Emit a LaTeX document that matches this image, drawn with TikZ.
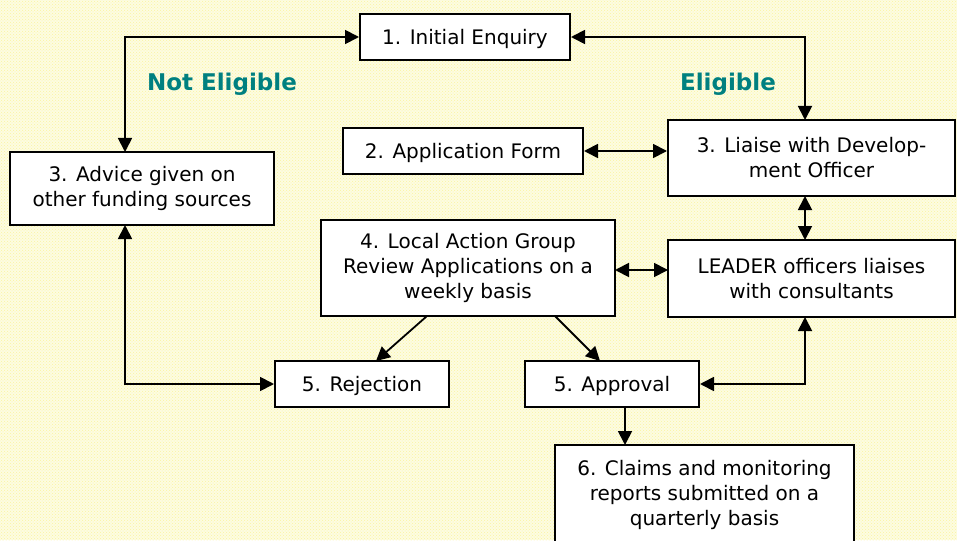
\documentclass[tikz,border=0pt]{standalone}
\usepackage{fontspec}
\setmainfont{DejaVu Sans}
\usetikzlibrary{arrows.meta,patterns}
\definecolor{bgyellow}{RGB}{253,252,225}
\definecolor{dotyellow}{RGB}{250,244,160}
\definecolor{teallabel}{RGB}{0,128,128}
\tikzset{
  box/.style={draw=black, line width=2pt, fill=white, align=center, inner sep=2pt,
    font=\fontsize{20}{25}\selectfont},
  onebox/.style={box, text height=19pt, text depth=4pt},
  conn/.style={line width=1.8pt, -{Triangle[length=14pt,width=14pt]}},
  biconn/.style={line width=1.8pt, {Triangle[length=14pt,width=14pt]}-{Triangle[length=14pt,width=14pt]}},
  lbl/.style={text=teallabel, font=\bfseries\fontsize{23}{27}\selectfont}
}
\begin{document}
\begin{tikzpicture}[x=1pt,y=-1pt]
\fill[bgyellow] (0,0) rectangle (957,540);
\fill[pattern=crosshatch dots, pattern color=dotyellow] (0,0) rectangle (957,540);
\useasboundingbox (0,0) rectangle (957,540);

\node[onebox, minimum width=210pt, minimum height=46pt] (enq) at (465,37) {1. Initial Enquiry};
\node[onebox, minimum width=240pt, minimum height=46pt] (app) at (463,151) {2. Application Form};
\node[box, minimum width=287pt, minimum height=76pt] (lia) at (811.5,158) {3. Liaise with Develop-\\ment Officer};
\node[box, minimum width=264pt, minimum height=73pt] (adv) at (142,188.5) {3. Advice given on\\other funding sources};
\node[box, minimum width=294pt, minimum height=96pt] (lag) at (468,268) {4. Local Action Group\\Review Applications on a\\weekly basis};
\node[box, minimum width=287pt, minimum height=77pt] (lea) at (811.5,278.5) {LEADER officers liaises\\with consultants};
\node[onebox, minimum width=174pt, minimum height=46pt] (rej) at (362,384) {5. Rejection};
\node[onebox, minimum width=174pt, minimum height=46pt] (apr) at (612,384) {5. Approval};
\node[box, minimum width=299pt, minimum height=100pt] (cla) at (704.5,495) {6. Claims and monitoring\\reports submitted on a\\quarterly basis};

\node[lbl] (ne) at (222,84) {Not Eligible};
\node[lbl] (el) at (728,84) {Eligible};

\coordinate (advtop) at (125,152);
\coordinate (advbot) at (125,225);
\coordinate (liatop) at (805,120);
\coordinate (liabot) at (805,196);
\coordinate (leatop) at (805,240);
\coordinate (leabot) at (805,317);
\coordinate (lagl) at (427,316);
\coordinate (lagr) at (555,316);
\coordinate (rejt) at (376,361);
\coordinate (aprt) at (600,361);
\coordinate (aprb) at (625,407);
\coordinate (clat) at (625,445);
\coordinate (lagright) at (615,270);
\coordinate (lealeft) at (668,270);

\draw[biconn] (enq.west) -| (advtop);
\draw[biconn] (enq.east) -| (liatop);
\draw[biconn] (app.east) -- (app.east -| lia.west);
\draw[biconn] (liabot) -- (leatop);
\draw[biconn] (lagright) -- (lealeft);
\draw[conn] (lagl) -- (rejt);
\draw[conn] (lagr) -- (aprt);
\draw[biconn] (advbot) |- (rej.west);
\draw[biconn] (apr.east) -| (leabot);
\draw[conn] (aprb) -- (clat);
\end{tikzpicture}
\end{document}
